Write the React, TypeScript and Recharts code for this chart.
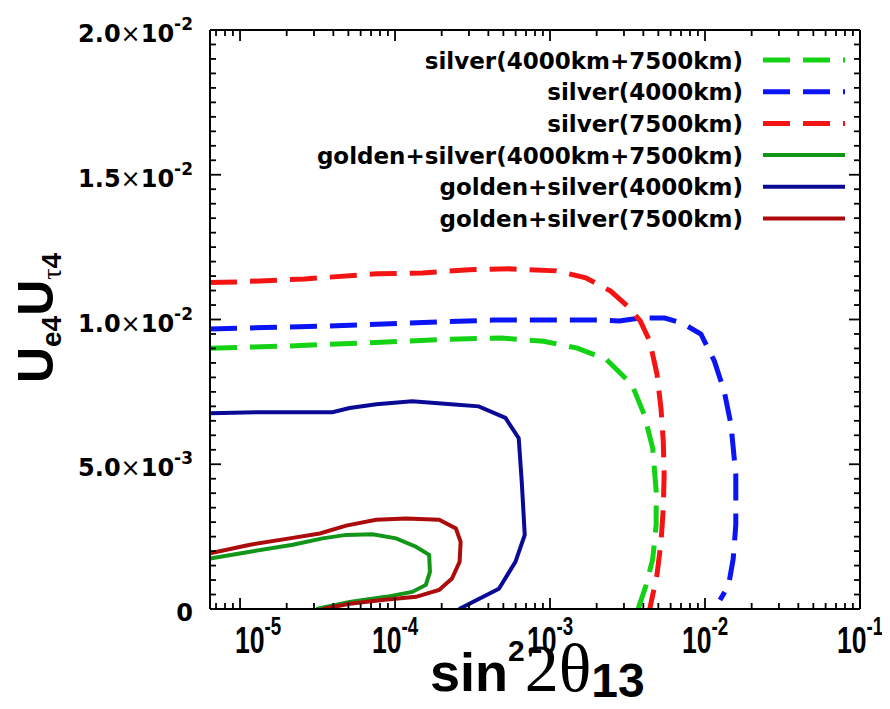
import React from 'react';
import { LineChart, Line, XAxis, YAxis } from 'recharts';

const X_MIN = 6.4e-6;
const X_MAX = 0.1;
const Y_MAX = 0.02;

const xMajorTicks = [1e-5, 1e-4, 1e-3, 1e-2, 1e-1];
const xMajorExp = ['-5', '-4', '-3', '-2', '-1'];
const yMajorTicks = [0, 0.005, 0.01, 0.015, 0.02];
const yMantissa = ['0', '5.0', '1.0', '1.5', '2.0'];
const yExponent = ['', '-3', '-2', '-2', '-2'];

// minor ticks: 2..9 x 10^n on the log axis, every 5e-4 on y
const xTicks: number[] = [];
for (let e = -6; e <= -2; e++) {
  for (let m = 1; m <= 9; m++) {
    const v = m * Math.pow(10, e);
    if (v >= X_MIN && v <= X_MAX) xTicks.push(v);
  }
}
xTicks.push(X_MAX);
const yTicks: number[] = [];
for (let i = 0; i <= 40; i++) yTicks.push(+(i * 0.0005).toFixed(4));

// [sin^2 2theta13, Ue4 Utau4]
const silverBoth: [number, number][] = [
  [6.4e-6, 0.00901], [1.9e-5, 0.00908], [6.6e-5, 0.00919], [2.3e-4, 0.00932], [4.9e-4, 0.00936],
  [9.1e-4, 0.00925], [1.5e-3, 0.00901], [2.3e-3, 0.00863], [3.37e-3, 0.00776], [4.05e-3, 0.00672],
  [4.6e-3, 0.00555], [4.84e-3, 0.00406], [4.84e-3, 0.00291], [4.6e-3, 0.00173], [4.17e-3, 0.00083],
  [3.7e-3, 0],
];
const silver4000: [number, number][] = [
  [6.4e-6, 0.00967], [1.17e-5, 0.00971], [3.56e-5, 0.00977], [1.24e-4, 0.00988], [4.3e-4, 0.00998],
  [1.1e-3, 0.00998], [2.05e-3, 0.00998], [2.8e-3, 0.00995], [3.82e-3, 0.01005], [5.5e-3, 0.01005],
  [7.1e-3, 0.00988], [9.4e-3, 0.0095], [1.15e-2, 0.00856], [1.33e-2, 0.00752], [1.47e-2, 0.00638],
  [1.58e-2, 0.00464], [1.58e-2, 0.00291], [1.52e-2, 0.00173], [1.42e-2, 0.00083], [1.25e-2, 0.00031],
];
const silver7500: [number, number][] = [
  [6.4e-6, 0.01128], [9.7e-6, 0.0113], [2.6e-5, 0.0114], [7.6e-5, 0.01158], [1.5e-4, 0.01161],
  [3.0e-4, 0.01172], [5.5e-4, 0.01175], [1.1e-3, 0.01168], [1.7e-3, 0.01144], [2.45e-3, 0.01099],
  [3.15e-3, 0.01047], [3.82e-3, 0.00995], [4.4e-3, 0.00925], [4.9e-3, 0.00811], [5.2e-3, 0.00693],
  [5.38e-3, 0.00579], [5.45e-3, 0.00464], [5.38e-3, 0.00347], [5.2e-3, 0.00232], [4.9e-3, 0.00118],
  [4.4e-3, 0],
];
const goldenBoth: [number, number][] = [
  [6.4e-6, 0.00174], [1.16e-5, 0.00198], [2.19e-5, 0.00222], [3.41e-5, 0.00244], [4.84e-5, 0.00256],
  [7.15e-5, 0.00258], [1.015e-4, 0.00244], [1.365e-4, 0.00215], [1.66e-4, 0.00187], [1.68e-4, 0.00128],
  [1.58e-4, 0.00083], [1.29e-4, 0.00059], [8.75e-5, 0.00042], [5.09e-5, 0.00024], [3.11e-5, 0],
];
const golden4000: [number, number][] = [
  [6.4e-6, 0.00676], [1.41e-5, 0.0068], [3.95e-5, 0.0068], [5.09e-5, 0.00694], [7.59e-5, 0.00707],
  [1.29e-4, 0.00718], [2.3e-4, 0.00707], [3.47e-4, 0.007], [5.16e-4, 0.0066], [6.28e-4, 0.0059],
  [6.57e-4, 0.0044], [6.87e-4, 0.00256], [5.98e-4, 0.00163], [4.68e-4, 0.0007], [2.59e-4, 0],
];
const golden7500: [number, number][] = [
  [6.4e-6, 0.00192], [1.16e-5, 0.00222], [2.09e-5, 0.00244], [3.27e-5, 0.00261], [4.84e-5, 0.00288],
  [7.55e-5, 0.00308], [1.177e-4, 0.00313], [1.925e-4, 0.00308], [2.47e-4, 0.00278], [2.65e-4, 0.00232],
  [2.61e-4, 0.00163], [2.33e-4, 0.00105], [1.925e-4, 0.00066], [1.365e-4, 0.00042], [8.28e-5, 0.00031],
  [5.09e-5, 0.00018], [3.41e-5, 0],
];

const series = [
  { name: 'silver(4000km+7500km)', color: '#14d214', dash: '27 13', width: 5, data: silverBoth },
  { name: 'silver(4000km)', color: '#0a14f5', dash: '27 13', width: 5, data: silver4000 },
  { name: 'silver(7500km)', color: '#f51414', dash: '27 13', width: 5, data: silver7500 },
  { name: 'golden+silver(4000km+7500km)', color: '#12961a', dash: undefined, width: 4, data: goldenBoth },
  { name: 'golden+silver(4000km)', color: '#0a0a96', dash: undefined, width: 4, data: golden4000 },
  { name: 'golden+silver(7500km)', color: '#ac0c0c', dash: undefined, width: 4, data: golden7500 },
];

const SANS = '"DejaVu Sans", sans-serif';
const ARIAL = '"Liberation Sans", Arial, sans-serif';
const SERIF = '"Liberation Serif", "Times New Roman", serif';

const majorIndex = (v: number, list: number[]) =>
  list.findIndex((t) => (t === 0 ? v === 0 : Math.abs(v / t - 1) < 1e-6));

const BottomTick = ({ x, y, payload }: any) => {
  const idx = majorIndex(payload.value, xMajorTicks);
  const major = idx >= 0;
  return (
    <g>
      <line x1={x} x2={x} y1={y} y2={y - (major ? 11 : 6)} stroke="#000" strokeWidth={1.8} />
      {major && (
        // the original labels are a tall, narrow bold face
        <g transform={`translate(${x + (idx === 0 ? 18 : 0)}, ${y + 44}) scale(0.72, 1)`}>
          <text x={0} y={0} textAnchor="middle" fontFamily={ARIAL} fontWeight="bold" fontSize={37} fill="#000">
            <tspan>10</tspan>
            <tspan dy={-18} fontSize={26}>{xMajorExp[idx]}</tspan>
          </text>
        </g>
      )}
    </g>
  );
};

const TopTick = ({ x, y, payload }: any) => {
  const major = majorIndex(payload.value, xMajorTicks) >= 0;
  return <line x1={x} x2={x} y1={y} y2={y + (major ? 11 : 6)} stroke="#000" strokeWidth={1.8} />;
};

const LeftTick = ({ x, y, payload }: any) => {
  const idx = majorIndex(payload.value, yMajorTicks);
  const major = idx >= 0;
  return (
    <g>
      <line x1={x} x2={x + (major ? 11 : 6)} y1={y} y2={y} stroke="#000" strokeWidth={1.8} />
      {major && (
        <text x={x - 17} y={y + 12} textAnchor="end" fontFamily={SANS} fontWeight="bold" fontSize={24} fill="#000">
          <tspan>{yMantissa[idx]}</tspan>
          {yExponent[idx] && <tspan fontWeight="normal">×</tspan>}
          {yExponent[idx] && <tspan>10</tspan>}
          {yExponent[idx] && <tspan dy={-12} fontSize={17}>{yExponent[idx]}</tspan>}
        </text>
      )}
    </g>
  );
};

const RightTick = ({ x, y, payload }: any) => {
  const major = majorIndex(payload.value, yMajorTicks) >= 0;
  return <line x1={x} x2={x - (major ? 11 : 6)} y1={y} y2={y} stroke="#000" strokeWidth={1.8} />;
};

const W = 882;
const H = 701;
const axisLine = { stroke: '#000', strokeWidth: 2 };

export default function App() {
  return (
    <div style={{ position: 'relative', width: W, height: H, background: '#fff' }}>
      <LineChart width={W} height={H} margin={{ top: 20, right: 28, bottom: 42, left: 102 }}>
        <XAxis xAxisId={0} dataKey="x" type="number" scale="log" domain={[X_MIN, X_MAX]} allowDataOverflow
          ticks={xTicks} interval={0} tick={<BottomTick />} tickLine={false} tickSize={0} tickMargin={0}
          axisLine={axisLine} height={58} />
        <XAxis xAxisId="top" orientation="top" dataKey="x" type="number" scale="log" domain={[X_MIN, X_MAX]} allowDataOverflow
          ticks={xTicks} interval={0} tick={<TopTick />} tickLine={false} tickSize={0} tickMargin={0}
          axisLine={axisLine} height={2} />
        <YAxis yAxisId={0} type="number" domain={[0, Y_MAX]} allowDataOverflow ticks={yTicks} interval={0}
          tick={<LeftTick />} tickLine={false} tickSize={0} tickMargin={0} axisLine={axisLine} width={100} />
        <YAxis yAxisId="right" orientation="right" type="number" domain={[0, Y_MAX]} allowDataOverflow ticks={yTicks} interval={0}
          tick={<RightTick />} tickLine={false} tickSize={0} tickMargin={0} axisLine={axisLine} width={2} />
        {series.map((s) => (
          <Line key={s.name} xAxisId={0} yAxisId={0} data={s.data.map(([x, y]) => ({ x, y }))} dataKey="y"
            type="linear" stroke={s.color} strokeWidth={s.width} strokeDasharray={s.dash}
            dot={false} activeDot={false} isAnimationActive={false} />
        ))}
      </LineChart>
      <svg width={W} height={H} style={{ position: 'absolute', left: 0, top: 0, pointerEvents: 'none' }}>
        {series.map((s, i) => {
          const cy = 52 + i * 31.7;
          return (
            <g key={s.name}>
              <text x={735} y={cy + 8.5} textAnchor="end" fontFamily={SANS} fontWeight="bold" fontSize={23} fill="#000">{s.name}</text>
              <line x1={755} x2={837} y1={cy} y2={cy} stroke={s.color} strokeWidth={s.width} strokeDasharray={s.dash} />
            </g>
          );
        })}
        <text x={422} y={683} fontFamily={ARIAL} fontWeight="bold" fontSize={54} fill="#000">
          <tspan>sin</tspan>
          <tspan dy={-30} fontSize={30}>2</tspan>
          <tspan dy={30} fontFamily={SERIF} fontWeight="normal" fontSize={68}>2θ</tspan>
          <tspan dy={6} fontSize={48}>13</tspan>
        </text>
        <text x={45} y={310} transform="rotate(-90 45 310)" textAnchor="middle" fontFamily={ARIAL} fontWeight="bold" fontSize={50} fill="#000">
          <tspan>U</tspan>
          <tspan dy={8} fontSize={28}>e4</tspan>
          <tspan dy={-8}>U</tspan>
          <tspan dy={8} fontSize={28} fontFamily={SERIF} fontWeight="normal">τ</tspan>
          <tspan fontSize={28}>4</tspan>
        </text>
      </svg>
    </div>
  );
}
